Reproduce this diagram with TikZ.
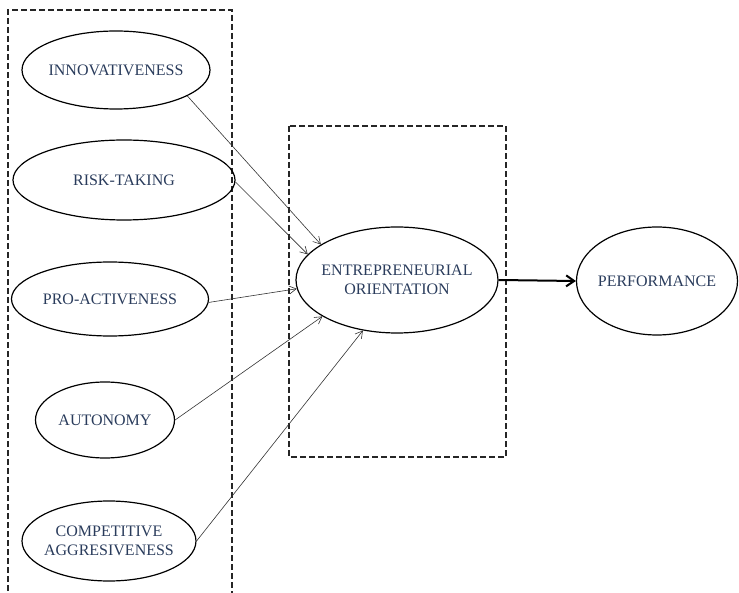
\documentclass[tikz,border=0pt]{standalone}
\usepackage{fontspec}
\setmainfont{Liberation Serif}
\usetikzlibrary{shapes.geometric,arrows.meta}
\definecolor{labelblue}{HTML}{2A3C5C}
\begin{document}
\begin{tikzpicture}[x=1pt,y=-1pt,
  construct/.style={draw=black,line width=1.2pt,ellipse,inner xsep=-15pt,inner ysep=0pt,
    text=labelblue,align=center,
    font=\fontsize{16}{18.5}\selectfont},
  grouping/.style={draw=black!85,line width=1.3pt,dash pattern=on 6pt off 3pt},
  link/.style={draw=black!80,line width=0.6pt,-{Straight Barb[length=7pt,width=8pt]}},
  mainlink/.style={draw=black,line width=2pt,-{Straight Barb[length=8pt,width=11pt,line width=2pt]}}]
\useasboundingbox (0,0) rectangle (739,593);

% grouping frames
\draw[grouping] (8,600) -- (8,10) -- (232,10) -- (232,600);
\draw[grouping] (289,126) rectangle (506,457);

% dimensions
\node[construct,minimum width=188pt,minimum height=78pt] (inn) at (116,70) {INNOVATIVENESS};
\node[construct,minimum width=222pt,minimum height=80pt] (risk) at (124,180) {RISK-TAKING};
\node[construct,minimum width=197pt,minimum height=74pt] (pro) at (110,299) {PRO-ACTIVENESS};
\node[construct,minimum width=139pt,minimum height=76pt] (aut) at (105,420) {AUTONOMY};
\node[construct,minimum width=174pt,minimum height=80pt] (comp) at (109,541) {COMPETITIVE\\AGGRESIVENESS};

% core construct and outcome
\node[construct,minimum width=202pt,minimum height=106pt] (eo) at (397,280) {ENTREPRENEURIAL\\ORIENTATION};
\node[construct,minimum width=161pt,minimum height=108pt] (perf) at (657,281) {PERFORMANCE};

% relations
\draw[link] (inn.340) -- (eo.155);
\draw[link] (risk.359) -- (eo.164);
\draw[link] (pro.358) -- (eo.185);
\draw[link] (aut.east) -- (eo.206);
\draw[link] (comp.east) -- (eo.236);
\draw[mainlink] (eo.east) -- (perf.west);
\end{tikzpicture}
\end{document}
